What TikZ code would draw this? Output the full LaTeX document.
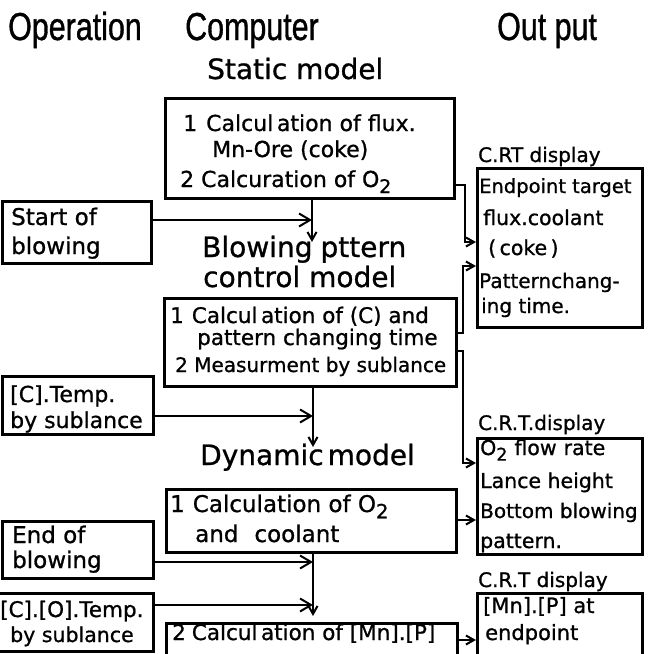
\documentclass[tikz,border=0pt]{standalone}
\usepackage{fontspec}
\setmainfont{DejaVu Sans}[FakeBold=0.9]
\newfontfamily\headfont{Liberation Sans}[FakeStretch=0.78,FakeBold=0.9]
\usetikzlibrary{arrows.meta}
\newcommand\fsz[1]{\fontsize{#1}{#1}\selectfont}
\newcommand\ltwo{\raisebox{-0.5ex}{\scalebox{0.85}{2}}}

\begin{document}
\begin{tikzpicture}[x=1pt,y=-1pt,
  box/.style={draw, line width=2.5pt, inner sep=0pt, anchor=north west},
  txt/.style={inner sep=0pt, anchor=base west},
  head/.style={txt, font=\headfont\fsz{39}},
  ttl/.style={txt, font=\fsz{28}},
  conn/.style={line width=2pt},
  bigarr/.style={conn, -{Straight Barb[length=11pt,width=13pt,line width=2pt]}},
  smallarr/.style={conn, -{Straight Barb[length=8pt,width=9pt,line width=2pt]}},
]
\useasboundingbox (0,0) rectangle (651,654);

% column headings
\node[head] (hop)  at (8,40)   {Operation};
\node[head] (hcp)  at (185,40) {Computer};
\node[head] (hout) at (497,40) {Out put};

% ---------- static model ----------
\node[ttl] (tstat) at (207,79) {Static model};
\node[box, minimum width=289pt, minimum height=100pt] (sbox) at (164,97) {};
\node[txt, font=\fsz{22}] (s1) at (183,131) {1\hspace{9pt}Calcul\,ation of flux.};
\node[txt, font=\fsz{22}] (s2) at (212,157) {Mn-Ore (coke)};
\node[txt, font=\fsz{22}] (s3) at (180,187) {2\hspace{7pt}Calcuration of O\ltwo};

\node[box, minimum width=149pt, minimum height=62pt] (startb) at (1,200) {};
\node[txt, font=\fsz{23}] (st1) at (11,225) {Start of};
\node[txt, font=\fsz{23}] (st2) at (11,254) {blowing};

% ---------- blowing pattern control model ----------
\node[ttl] (tblow1) at (202,257) {Blowing\hspace{8pt}pttern};
\node[ttl] (tblow2) at (203,287) {control model};
\node[box, minimum width=292pt, minimum height=88pt] (bbox) at (163,297) {};
\node[txt, font=\fsz{21.5}] (b1) at (170,323) {1\hspace{8pt}Calcul\,ation of (C) and};
\node[txt, font=\fsz{21.5}] (b2) at (197,345) {pattern changing time};
\node[txt, font=\fsz{20}] (b3) at (175,372) {2 Measurment by sublance};

\node[box, minimum width=151pt, minimum height=58pt] (ctemp) at (1,375) {};
\node[txt, font=\fsz{22}] (c1) at (10,402) {[C].Temp.};
\node[txt, font=\fsz{22}] (c2) at (10,428) {by sublance};

% ---------- dynamic model ----------
\node[ttl] (tdyn) at (200,465) {Dynamic\hspace{4pt}model};
\node[box, minimum width=290pt, minimum height=63pt] (dbox1) at (165,488) {};
\node[txt, font=\fsz{23}] (d1) at (170,512) {1\hspace{8pt}Calculation of O\ltwo};
\node[txt, font=\fsz{23}] (d2) at (195,542) {and\hspace{16pt}coolant};

\node[box, minimum width=151pt, minimum height=57pt] (endb) at (1,520) {};
\node[txt, font=\fsz{23}] (e1) at (12,543) {End of};
\node[txt, font=\fsz{23}] (e2) at (12,568) {blowing};

\node[box, minimum width=156pt, minimum height=58pt] (cotemp) at (-4,592) {};
\node[txt, font=\fsz{21.5}] (co1) at (0,617) {[C].[O].Temp.};
\node[txt, font=\fsz{20.5}] (co2) at (10,642) {by sublance};

\node[box, minimum width=291pt, minimum height=60pt] (dbox2) at (165,622) {};
\node[txt, font=\fsz{21.5}] (d3) at (172,640) {2\hspace{6pt}Calcul\,ation of [Mn].[P]};

% ---------- output column ----------
\node[txt, font=\fsz{20}] (lab1) at (478,162) {C.RT display};
\node[box, minimum width=165pt, minimum height=159pt] (out1) at (476,167) {};
\node[txt, font=\fsz{19.5}] (o11) at (479,193) {Endpoint target};
\node[txt, font=\fsz{20.5}] (o12) at (483,225) {flux.coolant};
\node[txt, font=\fsz{20.5}] (o13) at (488,255) {(\,coke\,)};
\node[txt, font=\fsz{20}] (o14) at (479,288) {Patternchang-};
\node[txt, font=\fsz{20}] (o15) at (481,313) {ing time.};

\node[txt, font=\fsz{20}] (lab2) at (478,430) {C.R.T.display};
\node[box, minimum width=165pt, minimum height=116pt] (out2) at (476,437) {};
\node[txt, font=\fsz{20.5}] (o21) at (480,455) {O\ltwo\hspace{7pt}flow\hspace{7pt}rate};
\node[txt, font=\fsz{20.5}] (o22) at (480,488) {Lance height};
\node[txt, font=\fsz{20}] (o23) at (480,518) {Bottom blowing};
\node[txt, font=\fsz{20.5}] (o24) at (480,548) {pattern.};

\node[txt, font=\fsz{20}] (lab3) at (478,587) {C.R.T display};
\node[box, minimum width=165pt, minimum height=80pt] (out3) at (476,592) {};
\node[txt, font=\fsz{21}] (o31) at (483,613) {[Mn].[P] at};
\node[txt, font=\fsz{21}] (o32) at (485,640) {endpoint};

% ---------- connectors: operation and model flow ----------
\coordinate (ja) at (312,220);
\coordinate (ta) at (312,242);
\draw[bigarr] (startb.east |- ja) -- (ja);
\draw[smallarr] (sbox.south -| ta) -- (ta);

\coordinate (jb) at (313,416);
\coordinate (tb) at (313,447);
\draw[bigarr] (ctemp.east |- jb) -- (jb);
\draw[smallarr] (bbox.south -| tb) -- (tb);

\coordinate (jc) at (313,562);
\coordinate (jd) at (313,605);
\coordinate (tc) at (313,616);
\draw[bigarr] (endb.east |- jc) -- (jc);
\draw[bigarr] (cotemp.east |- jd) -- (jd);
\draw[smallarr] (dbox1.south -| tc) -- (tc);

% ---------- connectors: models to displays ----------
\coordinate (ra) at (465,185);
\coordinate (rb) at (465,242);
\draw[smallarr] (sbox.east |- ra) -- (ra) -- (rb) -- (out1.west |- rb);

\coordinate (rc) at (463,333);
\coordinate (rd) at (463,266);
\draw[smallarr] (bbox.east |- rc) -- (rc) -- (rd) -- (out1.west |- rd);

\coordinate (re) at (463,351);
\coordinate (rf) at (463,463);
\draw[smallarr] (bbox.east |- re) -- (re) -- (rf) -- (out2.west |- rf);

\coordinate (rg) at (476,520);
\draw[smallarr] (dbox1.east |- rg) -- (rg);

\coordinate (rh) at (476,640);
\draw[smallarr] (dbox2.east |- rh) -- (rh);
\end{tikzpicture}
\end{document}
